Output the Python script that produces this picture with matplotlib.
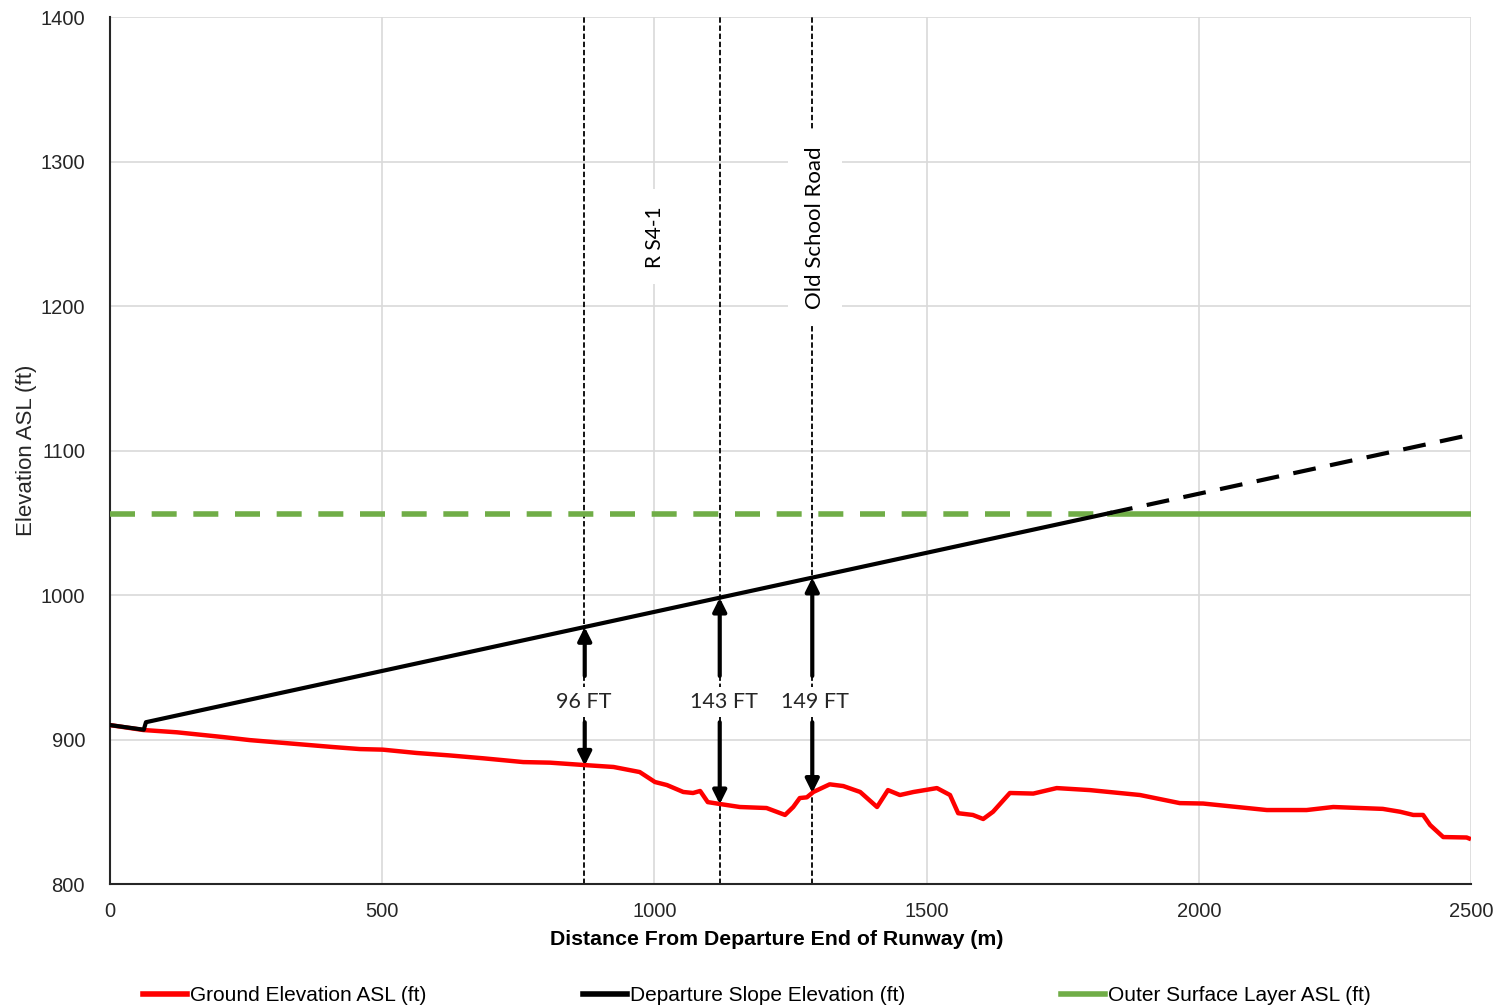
import matplotlib.pyplot as plt
import numpy as np

# Ground profile along the departure path (distance m, elevation ft)
ground_x = [0, 61, 123, 208, 257, 410, 459, 501, 563, 624, 686, 759, 808, 869,
            925, 973, 1001, 1023, 1053, 1071, 1084, 1098, 1120, 1157, 1206, 1240,
            1255, 1267, 1280, 1292, 1322, 1347, 1378, 1409, 1429, 1451, 1476, 1519,
            1543, 1558, 1585, 1604, 1622, 1653, 1696, 1739, 1800, 1892, 1965, 2008,
            2125, 2198, 2247, 2338, 2370, 2394, 2412, 2425, 2449, 2492, 2500]
ground_y = [910, 906.6, 905, 901.7, 899.6, 894.8, 893.4, 893, 890.7, 889, 887, 884.4, 884, 882.4,
            881, 877.5, 870.6, 868.5, 863.7, 863, 864.4, 856.7, 855.4, 853.3, 852.6, 847.8,
            853.3, 859.5, 860, 863.7, 869, 867.8, 863.7, 853.3, 865, 861.6, 863.7, 866.4,
            861.6, 849, 847.8, 845, 850, 863, 862.6, 866.4, 865, 861.6, 856, 855.7,
            851.2, 851.2, 853.3, 852, 850, 847.8, 847.8, 840.8, 832.5, 832.2, 831]

# Departure slope (solid up to the outer surface, dashed beyond)
slope_x = [0, 62, 66, 1837]
slope_y = [910, 906.8, 912, 1056.8]
slope_ext_x = [1837, 2500]
slope_ext_y = [1056.8, 1111]

# Outer surface layer
osl_elev = 1056
osl_break = 1837

# Obstacles / crossings and clearances
marker_x = [870, 1120, 1290]
clear_x = [872, 1120, 1290]
clear_ft = [96, 143, 149]

plt.rcParams['font.family'] = ['Liberation Sans', 'DejaVu Sans']

fig = plt.figure(figsize=(15.05, 10.08), dpi=100)
ax = fig.add_axes([0.0731, 0.123, 0.9043, 0.860])

ax.plot(ground_x, ground_y, color='#ff0000', lw=3.2, zorder=4, solid_capstyle='butt')
ax.plot(slope_x, slope_y, color='black', lw=3, zorder=5)
ax.plot(slope_ext_x, slope_ext_y, color='black', lw=3, zorder=5, dashes=(5.5, 3.5))
ax.plot([0, osl_break], [osl_elev, osl_elev], color='#70ad47', lw=4, zorder=3, dashes=(4.5, 3))
ax.plot([osl_break, 2500], [osl_elev, osl_elev], color='#70ad47', lw=4, zorder=3)

for x in marker_x:
    ax.axvline(x, color='black', lw=1.3, dashes=(3, 1.5), zorder=2)

lab_font = ['Lato', 'DejaVu Sans']
ax.text(1001, 1248, 'R S4-1', rotation=90, ha='center', va='center', fontsize=15,
        family=lab_font, zorder=6,
        bbox=dict(boxstyle='square,pad=0.8', facecolor='white', edgecolor='none'))
ax.text(1295, 1254, 'Old School Road', rotation=90, ha='center', va='center', fontsize=16,
        family=lab_font, zorder=6,
        bbox=dict(boxstyle='square,pad=0.75', facecolor='white', edgecolor='none'))

# clearance arrows between ground and the slope
sx = np.array(slope_x + slope_ext_x[1:])
sy = np.array(slope_y + slope_ext_y[1:])
label_x = [870, 1127, 1295]
for x, lx, c in zip(clear_x, label_x, clear_ft):
    top = np.interp(x, sx, sy)
    bot = top - c
    arrow = dict(arrowstyle='-|>', lw=3, color='black', mutation_scale=20,
                 shrinkA=0, shrinkB=0)
    ax.annotate('', xy=(x, top), xytext=(x, 944), arrowprops=arrow, zorder=7)
    ax.annotate('', xy=(x, bot), xytext=(x, 912), arrowprops=arrow, zorder=7)
    ax.text(lx, 926, f'{c} FT', ha='center', va='center', fontsize=15.5,
            family=lab_font, color='#262626', zorder=7,
            bbox=dict(boxstyle='square,pad=0.25', facecolor='white', edgecolor='none'))

ax.set_xlim(0, 2500)
ax.set_ylim(800, 1400)
ax.set_xticks(np.arange(0, 2501, 500))
ax.set_yticks(np.arange(800, 1401, 100))
ax.grid(True, color='#d9d9d9', lw=1.2, zorder=0)
ax.set_axisbelow(True)
ax.tick_params(length=0, labelsize=14.5, colors='#262626')
ax.tick_params(axis='y', pad=18)
ax.tick_params(axis='x', pad=13)
for side in ['top', 'right']:
    ax.spines[side].set_visible(False)
for side in ['left', 'bottom']:
    ax.spines[side].set_color('#262626')
    ax.spines[side].set_linewidth(1.5)

ax.set_xlabel('Distance From Departure End of Runway (m)', fontsize=15.3, fontweight='bold')
ax.set_ylabel('Elevation ASL (ft)', fontsize=16, color='#262626')
ax.xaxis.set_label_coords(0.49, -0.053)
ax.yaxis.set_label_coords(-0.054, 0.5)

handles = [plt.Line2D([], [], color='#ff0000', lw=4),
           plt.Line2D([], [], color='black', lw=4),
           plt.Line2D([], [], color='#70ad47', lw=4)]
names = ['Ground Elevation ASL (ft)', 'Departure Slope Elevation (ft)', 'Outer Surface Layer ASL (ft)']
fig.legend(handles, names, loc='center', bbox_to_anchor=(0.503, 0.012), ncol=3, frameon=False,
           prop={'family': ['Liberation Sans Narrow', 'Liberation Sans'], 'size': 15},
           handlelength=2.1, handletextpad=0.15, columnspacing=7.5)

fig.savefig('out.png', dpi=100)
